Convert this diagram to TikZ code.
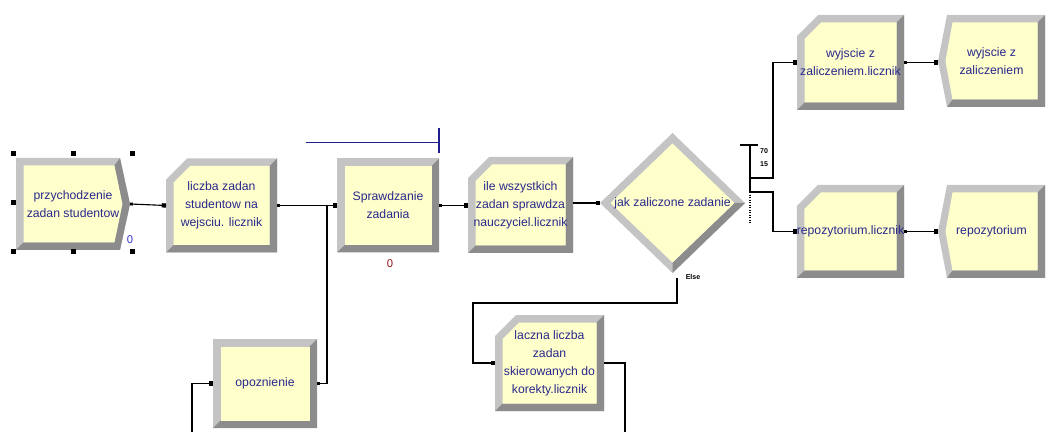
\documentclass[tikz,border=0pt]{standalone}
\usepackage{fontspec}
\setmainfont{Liberation Sans}
\usetikzlibrary{calc,arrows.meta,backgrounds}

\definecolor{modfill}{RGB}{255,255,204}
\definecolor{bevlight}{RGB}{196,196,196}
\definecolor{bevdark}{RGB}{140,140,140}
\definecolor{modtext}{RGB}{40,40,140}
\definecolor{queueline}{RGB}{30,30,140}
\definecolor{cntred}{RGB}{140,20,20}
\definecolor{cntblue}{RGB}{50,50,210}

\newcommand{\bev}{7.5}
\newcommand{\darkband}[1]{%
  \fill[bevdark] (#1.south west) -- (#1.south east) -- (#1.north east)
    -- ($(#1.north east)+(-\bev,\bev)$) -- ($(#1.south east)+(-\bev,-\bev)$)
    -- ($(#1.south west)+(\bev,-\bev)$) -- cycle;}
\newcommand{\processshape}[1]{%
  \fill[bevlight] (#1.north west) rectangle (#1.south east);
  \darkband{#1}
  \fill[modfill] ($(#1.north west)+(\bev,\bev)$) rectangle ($(#1.south east)+(-\bev,-\bev)$);}
\newcommand{\recordshape}[1]{%
  \fill[bevlight] ($(#1.north west)+(0,21)$) -- ($(#1.north west)+(21,0)$) -- (#1.north east)
    -- (#1.south east) -- (#1.south west) -- cycle;
  \darkband{#1}
  \fill[modfill] ($(#1.north west)+(\bev,24)$) -- ($(#1.north west)+(24,\bev)$)
    -- ($(#1.north east)+(-\bev,\bev)$) -- ($(#1.south east)+(-\bev,-\bev)$)
    -- ($(#1.south west)+(\bev,-\bev)$) -- cycle;}
\newcommand{\createshape}[1]{%
  \fill[bevlight] (#1.north west) -- ($(#1.north east)+(-10,0)$) -- (#1.east)
    -- ($(#1.south east)+(-10,0)$) -- (#1.south west) -- cycle;
  \fill[bevdark] (#1.south west) -- ($(#1.south east)+(-10,0)$) -- (#1.east)
    -- ($(#1.north east)+(-10,0)$) -- ($(#1.north east)+(-15.6,\bev)$) -- ($(#1.east)+(-7.6,0)$)
    -- ($(#1.south east)+(-15.6,-\bev)$) -- ($(#1.south west)+(\bev,-\bev)$) -- cycle;
  \fill[modfill] ($(#1.north west)+(\bev,\bev)$) -- ($(#1.north east)+(-15.6,\bev)$)
    -- ($(#1.east)+(-7.6,0)$) -- ($(#1.south east)+(-15.6,-\bev)$)
    -- ($(#1.south west)+(\bev,-\bev)$) -- cycle;}
\newcommand{\disposeshape}[1]{%
  \fill[bevlight] (#1.west) -- ($(#1.north west)+(9,0)$) -- (#1.north east)
    -- (#1.south east) -- ($(#1.south west)+(9,0)$) -- cycle;
  \fill[bevdark] ($(#1.south west)+(9,0)$) -- (#1.south east) -- (#1.north east)
    -- ($(#1.north east)+(-\bev,\bev)$) -- ($(#1.south east)+(-\bev,-\bev)$)
    -- ($(#1.south west)+(14.5,-\bev)$) -- cycle;
  \fill[modfill] ($(#1.west)+(7.5,0)$) -- ($(#1.north west)+(14.5,\bev)$)
    -- ($(#1.north east)+(-\bev,\bev)$) -- ($(#1.south east)+(-\bev,-\bev)$)
    -- ($(#1.south west)+(14.5,-\bev)$) -- cycle;}
\newcommand{\decideshape}[1]{%
  \fill[bevlight] (#1.north) -- (#1.east) -- (#1.south) -- (#1.west) -- cycle;
  \fill[bevdark] (#1.east) -- (#1.south) -- ($(#1.south)+(0,-10.5)$) -- ($(#1.east)+(-10.5,0)$) -- cycle;
  \fill[modfill] ($(#1.north)+(0,10.5)$) -- ($(#1.east)+(-10.5,0)$)
    -- ($(#1.south)+(0,-10.5)$) -- ($(#1.west)+(10.5,0)$) -- cycle;}

\tikzset{
  mod/.style 2 args={rectangle, inner sep=0pt, outer sep=0pt,
    minimum width=#1*0.025cm, minimum height=#2*0.025cm,
    align=center, text=modtext, font=\fontsize{8.7}{12.8}\selectfont},
  conn/.style={line width=0.8pt},
  link/.style={conn, {Square[length=2pt,width=2pt]}-{Square[length=3pt,width=3pt]}},
  linkin/.style={conn, -{Square[length=3pt,width=3pt]}},
  linkout/.style={conn, {Square[length=2pt,width=2pt]}-},
  cnt/.style={inner sep=0pt, font=\fontsize{8}{9}\selectfont},
  tag/.style={inner sep=0pt, font=\fontsize{5}{6}\selectfont\bfseries}
}

\begin{document}
\begin{tikzpicture}[x=0.025cm, y=-0.025cm]
\useasboundingbox (0,0) rectangle (1051,432);

\node (arr) [mod={114}{92}] at (73,204) {przychodzenie\\zadan studentow};
\node (rec1) [mod={111}{94}] at (221.5,205.5) {liczba zadan\\studentow na\\wejsciu. licznik};
\node (spr) [mod={102}{94}] at (388,205.5) {Sprawdzanie\\zadania};
\node (ile) [mod={105}{96}] at (520.5,205) {ile wszystkich\\zadan sprawdza\\nauczyciel.licznik};
\node (dec) [mod={145}{140}] at (672.5,203) {jak zaliczone zadanie};
\node (wyl) [mod={107}{95}] at (850.5,62.5) {wyjscie z\\zaliczeniem.licznik};
\node (wyd) [mod={107}{92}] at (991.5,61) {wyjscie z\\zaliczeniem};
\node (repl) [mod={107}{93}] at (850.5,231.5) {repozytorium.licznik};
\node (repd) [mod={107}{93}] at (991.5,231.5) {repozytorium};
\node (opoz) [mod={104}{89}] at (265,383.5) {opoznienie};
\node (lacz) [mod={109}{96}] at (549.5,363) {laczna liczba\\zadan\\skierowanych do\\korekty.licznik};

\begin{pgfonlayer}{background}
\createshape{arr}
\recordshape{rec1}
\processshape{spr}
\recordshape{ile}
\decideshape{dec}
\recordshape{wyl}
\disposeshape{wyd}
\recordshape{repl}
\disposeshape{repd}
\processshape{opoz}
\recordshape{lacz}
\end{pgfonlayer}

\foreach \hx/\hy in {13/154,73/154,132/154,13/203,13/252,73/252,132/252}
  \fill (\hx-2.5,\hy-2.5) rectangle ++(5,5);
\node (arrcnt) [cnt, text=cntblue] at (130,240) {0};
\node (sprcnt) [cnt, text=cntred] at (390,264) {0};
\draw[queueline, line width=0.8pt] ($(spr.north west)+(-31,-16)$) -- ($(spr.north east)+(0,-16)$)
  ($(spr.north east)+(0,-30)$) -- ($(spr.north east)+(0,-5)$);

\coordinate (dtop) at (750,145);
\coordinate (dx1) at (750,178);
\coordinate (dx2) at (750,192);
\coordinate (dend) at (750,224);
\coordinate (opozin) at (192,432);
\coordinate (laczend) at (625,432);
\node (p70) [tag] at (764,151) {70};
\node (p15) [tag] at (764,164) {15};
\node (elselbl) [tag] at (693,277) {Else};

\draw[link] (arr.east) -- (rec1.west);
\draw[link] (rec1.east) -- (spr.west);
\draw[linkout] (opoz.east) -- ++(10,0) |- (spr.west);
\draw[linkin] (opozin) |- (opoz.west);
\draw[link] (spr.east) -- (spr.east -| ile.west);
\draw[link] (ile.east |- dec.west) -- (dec.west);
\draw[conn] ($(dtop)+(-10,0)$) -- ($(dtop)+(8,0)$);
\draw[conn] (dtop) -- (dx2);
\draw[conn, densely dotted] (dx2) -- (dend);
\draw[link] (dx1) -- ++(23,0) |- (wyl.west);
\draw[link] (dx2) -- ++(23,0) |- (repl.west);
\draw[link] (wyl.east) -- (wyl.east -| wyd.west);
\draw[link] (repl.east) -- (repd.west);
\draw[link] ($(dec.south)+(4.5,5)$) -- ++(0,25) -| ($(lacz.west)+(-22,0)$) -- (lacz.west);
\draw[linkout] (lacz.east) -| (laczend);
\end{tikzpicture}
\end{document}
